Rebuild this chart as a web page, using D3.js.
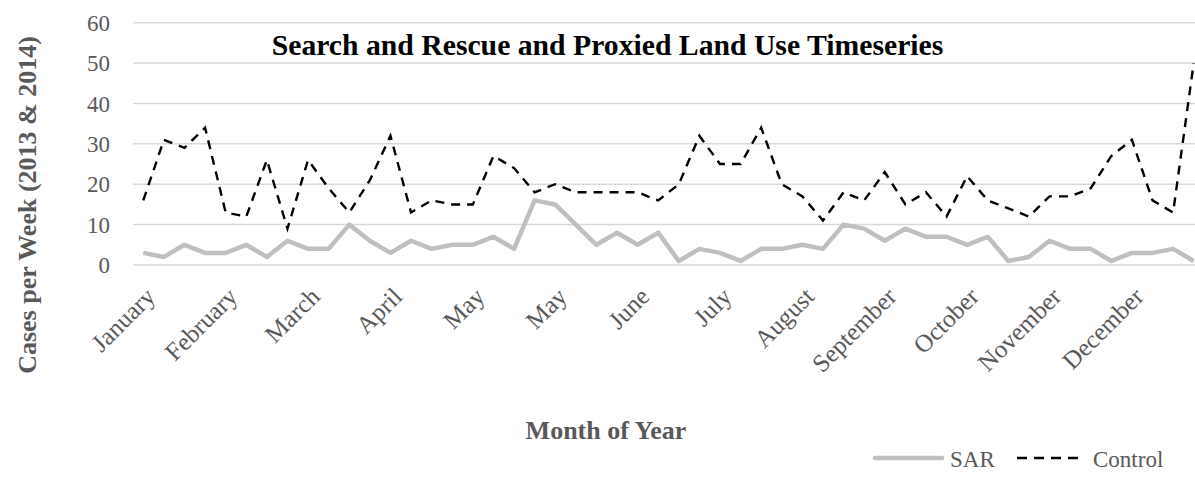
<!DOCTYPE html>
<meta charset="utf-8">
<head>
    <script type="text/javascript" src="https://d3js.org/d3.v7.min.js"></script>
    <style>
        body { margin: 0; background: white; }
        text { font-family: "Liberation Serif", serif; }
    </style>
    <title></title>
</head>
<body>
<script>

    var width = 1195
    var height = 477

    // weekly values, 52 weeks
    var sar = [3, 2, 5, 3, 3, 5, 2, 6, 4, 4, 10, 6, 3, 6, 4, 5, 5, 7, 4, 16, 15, 10, 5, 8, 5, 8,
        1, 4, 3, 1, 4, 4, 5, 4, 10, 9, 6, 9, 7, 7, 5, 7, 1, 2, 6, 4, 4, 1, 3, 3, 4, 1]
    var control = [16, 31, 29, 34, 13, 12, 26, 9, 26, 19, 13, 21, 32, 13, 16, 15, 15, 27, 24, 18, 20, 18, 18, 18, 18, 16,
        20, 32, 25, 25, 34, 20, 17, 11, 18, 16, 23, 15, 18, 12, 22, 16, 14, 12, 17, 17, 19, 27, 31, 16, 13, 50]

    var monthLabels = ["January", "February", "March", "April", "May", "May", "June",
        "July", "August", "September", "October", "November", "December"]
    var labelEvery = 4
    var yTicks = [0, 10, 20, 30, 40, 50, 60]

    var svg = d3.select("body").append("svg")
        .attr("width", width)
        .attr("height", height)

    var x = d3.scalePoint()
        .domain(d3.range(sar.length))
        .range([133, 1204])
        .padding(0.5)

    var y = d3.scaleLinear()
        .domain([0, 60])
        .range([265, 22.7])

    // gridlines
    svg.append("g").selectAll("line")
        .data(yTicks)
        .enter()
        .append("line")
        .attr("x1", 133)
        .attr("x2", 1204)
        .attr("y1", d => y(d))
        .attr("y2", d => y(d))
        .style("stroke", "#d9d9d9")
        .style("stroke-width", 1.5)

    // y tick labels
    svg.append("g").selectAll("text")
        .data(yTicks)
        .enter()
        .append("text")
        .attr("x", 110)
        .attr("y", d => y(d))
        .attr("dy", "0.35em")
        .attr("text-anchor", "end")
        .style("font-size", "23px")
        .style("fill", "#595959")
        .text(d => d)

    // month labels
    svg.append("g").selectAll("text")
        .data(monthLabels)
        .enter()
        .append("text")
        .attr("transform", (d, i) => "translate(" + (x(i * labelEvery) + 7) + ",292) rotate(-45)")
        .attr("dy", "0.35em")
        .attr("text-anchor", "end")
        .style("font-size", "25px")
        .style("fill", "#595959")
        .text(d => d)

    var line = d3.line()
        .x((d, i) => x(i))
        .y(d => y(d))

    svg.append("path")
        .datum(sar)
        .attr("d", line)
        .style("fill", "none")
        .style("stroke", "#bfbfbf")
        .style("stroke-width", 4.5)
        .style("stroke-linejoin", "round")

    svg.append("path")
        .datum(control)
        .attr("d", line)
        .style("fill", "none")
        .style("stroke", "black")
        .style("stroke-width", 2.4)
        .style("stroke-dasharray", "9,7")

    // titles
    svg.append("text")
        .attr("x", 607.5)
        .attr("y", 55)
        .attr("text-anchor", "middle")
        .style("font-size", "29.7px")
        .style("font-weight", "bold")
        .style("fill", "black")
        .text("Search and Rescue and Proxied Land Use Timeseries")

    svg.append("text")
        .attr("transform", "translate(36,205) rotate(-90)")
        .attr("text-anchor", "middle")
        .style("font-size", "26px")
        .style("font-weight", "bold")
        .style("fill", "#595959")
        .text("Cases per Week (2013 & 2014)")

    svg.append("text")
        .attr("x", 606)
        .attr("y", 439)
        .attr("text-anchor", "middle")
        .style("font-size", "26px")
        .style("font-weight", "bold")
        .style("fill", "#595959")
        .text("Month of Year")

    // legend
    var legend = svg.append("g")

    legend.append("line")
        .attr("x1", 875).attr("x2", 942)
        .attr("y1", 458).attr("y2", 458)
        .style("stroke", "#bfbfbf")
        .style("stroke-width", 4.5)
        .style("stroke-linecap", "round")

    legend.append("text")
        .attr("x", 950).attr("y", 467)
        .style("font-size", "23px")
        .style("fill", "#595959")
        .text("SAR")

    legend.append("line")
        .attr("x1", 1017).attr("x2", 1083)
        .attr("y1", 458).attr("y2", 458)
        .style("stroke", "black")
        .style("stroke-width", 2.4)
        .style("stroke-dasharray", "10,7")

    legend.append("text")
        .attr("x", 1093).attr("y", 467)
        .style("font-size", "23px")
        .style("fill", "#595959")
        .text("Control")

</script>
</body>
</html>
